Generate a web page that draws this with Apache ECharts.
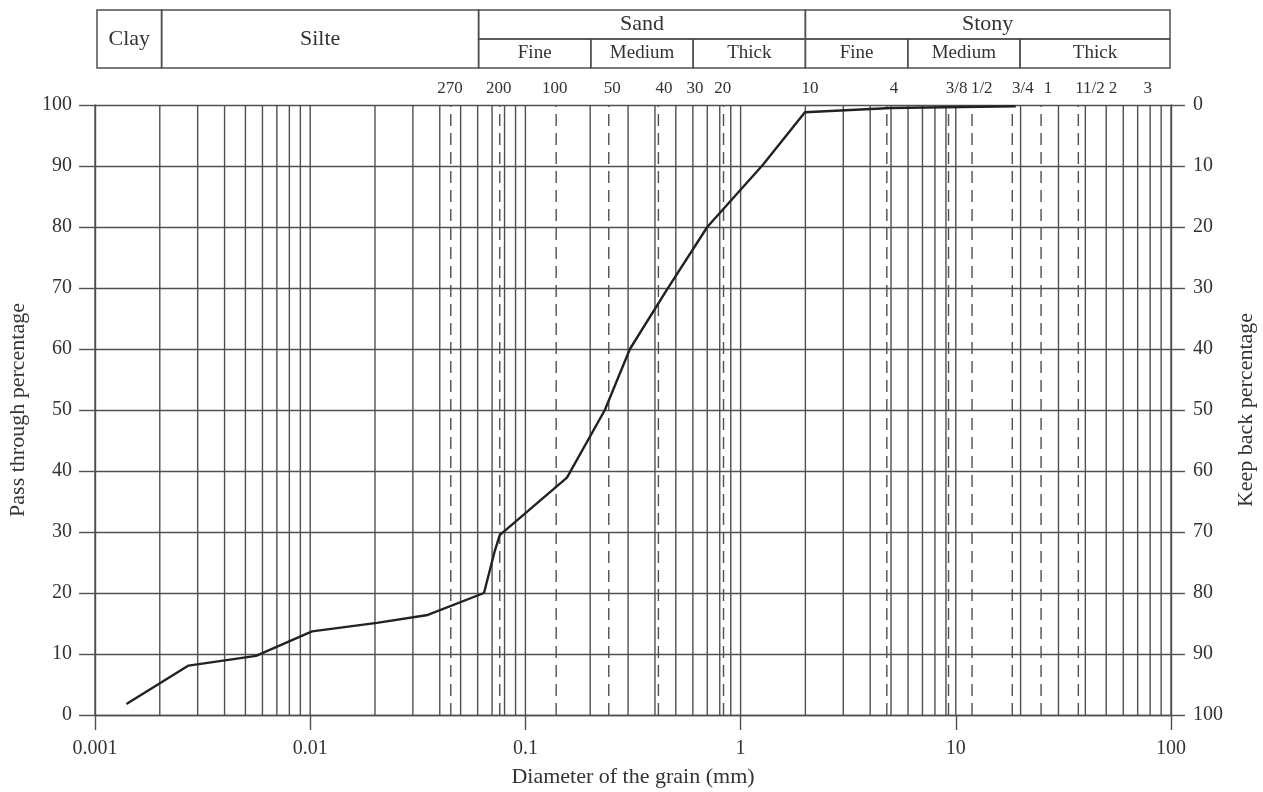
<!DOCTYPE html>
<html>
<head>
<meta charset="utf-8">
<script src="https://cdn.jsdelivr.net/npm/echarts@6/dist/echarts.min.js"></script>
<style>
html, body { margin: 0; padding: 0; background: #fff; }
#main { width: 1263px; height: 792px; }
</style>
</head>
<body>
<div id="main"></div>
<script>
// grading curve: grain diameter (mm) and pass through percentage
var diameters = [0.0014, 0.00272, 0.0056, 0.0102, 0.0204, 0.0352, 0.0642, 0.0722, 0.076, 0.156, 0.234, 0.306, 0.454, 0.7, 1.27, 1.99, 5, 19];
var passPercent = [1.8, 8.1, 9.7, 13.7, 15.1, 16.4, 20.0, 27, 29.5, 38.9, 50, 60, 69.7, 80, 90.2, 98.8, 99.5, 99.8];

// sieve numbers written above the plot, and the dashed sieve lines (mm)
var sieveNames = ['270', '200', '100', '50', '40', '30', '20', '10', '4', '3/8', '1/2', '3/4', '1', '11/2', '2', '3'];
var sieveLabelAt = [0.0446, 0.0751, 0.137, 0.253, 0.441, 0.614, 0.826, 2.1, 5.16, 10.1, 13.2, 20.5, 26.8, 42, 53.8, 78];
var sieveLines = [0.045, 0.076, 0.139, 0.244, 0.415, 0.833, 4.78, 9.25, 11.9, 18.3, 24.9, 37.1];

// classification table above the chart
var classNames = ['Clay', 'Silte', 'Sand', 'Stony'];
var classBounds = [[0.001, 0.002], [0.002, 0.06], [0.06, 2], [2, 100]];
var classRowFrom = [0, 0, 1, 1];
var subNames = ['Fine', 'Medium', 'Thick', 'Fine', 'Medium', 'Thick'];
var subBounds = [[0.06, 0.2], [0.2, 0.6], [0.6, 2], [2, 6], [6, 20], [20, 100]];

var xTickLabels = ['0.001', '0.01', '0.1', '1', '10', '100'];

var FONT = '"Liberation Serif", "Times New Roman", serif';
var GRID_COLOR = '#505050';
var TEXT_COLOR = '#333';

// log grid lines 1..9 x each decade
var gridX = [];
for (var e = -3; e < 2; e++) {
  for (var m = 1; m < 10; m++) {
    gridX.push(+(m * Math.pow(10, e)).toPrecision(3));
  }
}
gridX.push(100);

var curve = diameters.map(function (d, i) { return [d, passPercent[i]]; });

var cells = [];
classNames.forEach(function (n, i) {
  cells.push([classBounds[i][0], classBounds[i][1], classRowFrom[i], 2, n, 0]);
});
subNames.forEach(function (n, i) {
  cells.push([subBounds[i][0], subBounds[i][1], 0, 1, n, 1]);
});

var myChart = echarts.init(document.getElementById('main'));

var option = {
  backgroundColor: '#fff',
  animation: false,
  textStyle: { fontFamily: FONT },
  grid: [
    { left: 95, right: 92, top: 105, bottom: 77, outerBoundsMode: 'none' },
    { left: 97, right: 93, top: 10, height: 58, outerBoundsMode: 'none' }
  ],
  xAxis: [
    {
      type: 'log',
      logBase: 10,
      min: 0.001,
      max: 100,
      splitNumber: 5,
      name: 'Diameter of the grain (mm)',
      nameLocation: 'middle',
      nameGap: 51,
      nameTextStyle: { fontFamily: FONT, fontSize: 22, color: TEXT_COLOR },
      axisLine: { show: true, lineStyle: { color: GRID_COLOR, width: 1.4 } },
      axisTick: { show: true, length: 15, lineStyle: { color: GRID_COLOR, width: 1.4 } },
      minorTick: { show: false },
      splitLine: { show: false },
      axisLabel: {
        margin: 24,
        fontFamily: FONT,
        fontSize: 20,
        color: TEXT_COLOR,
        formatter: function (v) {
          return xTickLabels[Math.round(Math.log10(v)) + 3];
        }
      }
    },
    {
      type: 'log',
      gridIndex: 1,
      logBase: 10,
      min: 0.001,
      max: 100,
      show: false
    }
  ],
  yAxis: [
    {
      type: 'value',
      min: 0,
      max: 100,
      interval: 10,
      position: 'left',
      name: 'Pass through percentage',
      nameLocation: 'middle',
      nameGap: 66,
      nameTextStyle: { fontFamily: FONT, fontSize: 22, color: TEXT_COLOR },
      axisLine: { show: true, lineStyle: { color: GRID_COLOR, width: 1.4 } },
      axisTick: { show: true, length: 16, lineStyle: { color: GRID_COLOR, width: 1.4 } },
      splitLine: { show: true, lineStyle: { color: GRID_COLOR, width: 1.4 } },
      axisLabel: { margin: 23, fontFamily: FONT, fontSize: 20, color: TEXT_COLOR }
    },
    {
      type: 'value',
      min: 0,
      max: 100,
      interval: 10,
      inverse: true,
      position: 'right',
      name: 'Keep back percentage',
      nameLocation: 'middle',
      nameGap: 64,
      nameRotate: 90,
      nameTextStyle: { fontFamily: FONT, fontSize: 22, color: TEXT_COLOR },
      axisLine: { show: true, lineStyle: { color: GRID_COLOR, width: 1.4 } },
      axisTick: { show: true, length: 14, lineStyle: { color: GRID_COLOR, width: 1.4 } },
      splitLine: { show: false },
      axisLabel: { margin: 22, fontFamily: FONT, fontSize: 20, color: TEXT_COLOR }
    },
    {
      type: 'value',
      gridIndex: 1,
      min: 0,
      max: 2,
      show: false
    }
  ],
  series: [
    {
      // vertical log grid
      type: 'custom',
      xAxisIndex: 0,
      yAxisIndex: 0,
      silent: true,
      z: 1,
      encode: { x: 0 },
      data: gridX.map(function (v) { return [v]; }),
      renderItem: function (params, api) {
        var a = api.coord([api.value(0), 0]);
        var b = api.coord([api.value(0), 100]);
        return {
          type: 'line',
          shape: { x1: a[0], y1: a[1], x2: b[0], y2: b[1] },
          style: { stroke: GRID_COLOR, lineWidth: 1.4 }
        };
      }
    },
    {
      // dashed sieve lines
      type: 'custom',
      xAxisIndex: 0,
      yAxisIndex: 0,
      silent: true,
      z: 2,
      encode: { x: 0 },
      data: sieveLines.map(function (v) { return [v]; }),
      renderItem: function (params, api) {
        var a = api.coord([api.value(0), 0]);
        var b = api.coord([api.value(0), 100]);
        return {
          type: 'line',
          shape: { x1: a[0], y1: a[1], x2: b[0], y2: b[1] },
          style: { stroke: GRID_COLOR, lineWidth: 1.4, lineDash: [12, 7] }
        };
      }
    },
    {
      // sieve numbers
      type: 'custom',
      xAxisIndex: 0,
      yAxisIndex: 0,
      silent: true,
      clip: false,
      encode: { x: 0 },
      data: sieveLabelAt.map(function (v) { return [v]; }),
      renderItem: function (params, api) {
        var p = api.coord([api.value(0), 100]);
        return {
          type: 'text',
          style: {
            text: sieveNames[params.dataIndex],
            x: p[0],
            y: p[1] - 16,
            align: 'center',
            verticalAlign: 'middle',
            font: '17px ' + FONT,
            fill: TEXT_COLOR
          }
        };
      }
    },
    {
      // classification table
      type: 'custom',
      xAxisIndex: 1,
      yAxisIndex: 2,
      silent: true,
      clip: false,
      encode: { x: [0, 1], y: [2, 3] },
      data: cells.map(function (c) { return [c[0], c[1], c[2], c[3]]; }),
      renderItem: function (params, api) {
        var c = cells[params.dataIndex];
        var p0 = api.coord([c[0], c[3]]);
        var p1 = api.coord([c[1], c[2]]);
        return {
          type: 'group',
          children: [
            {
              type: 'rect',
              shape: { x: p0[0], y: p0[1], width: p1[0] - p0[0], height: p1[1] - p0[1] },
              style: { fill: 'none', stroke: GRID_COLOR, lineWidth: 1.5 }
            },
            {
              type: 'text',
              style: {
                text: c[4],
                x: (p0[0] + p1[0]) / 2,
                y: (p0[1] + p1[1]) / 2,
                align: 'center',
                verticalAlign: 'middle',
                font: (c[5] ? '19px ' : '22px ') + FONT,
                fill: TEXT_COLOR
              }
            }
          ]
        };
      }
    },
    {
      name: 'Pass through',
      type: 'line',
      xAxisIndex: 0,
      yAxisIndex: 0,
      z: 10,
      symbol: 'none',
      lineStyle: { color: '#222', width: 2.4 },
      data: curve
    }
  ]
};

myChart.setOption(option);
</script>
</body>
</html>
